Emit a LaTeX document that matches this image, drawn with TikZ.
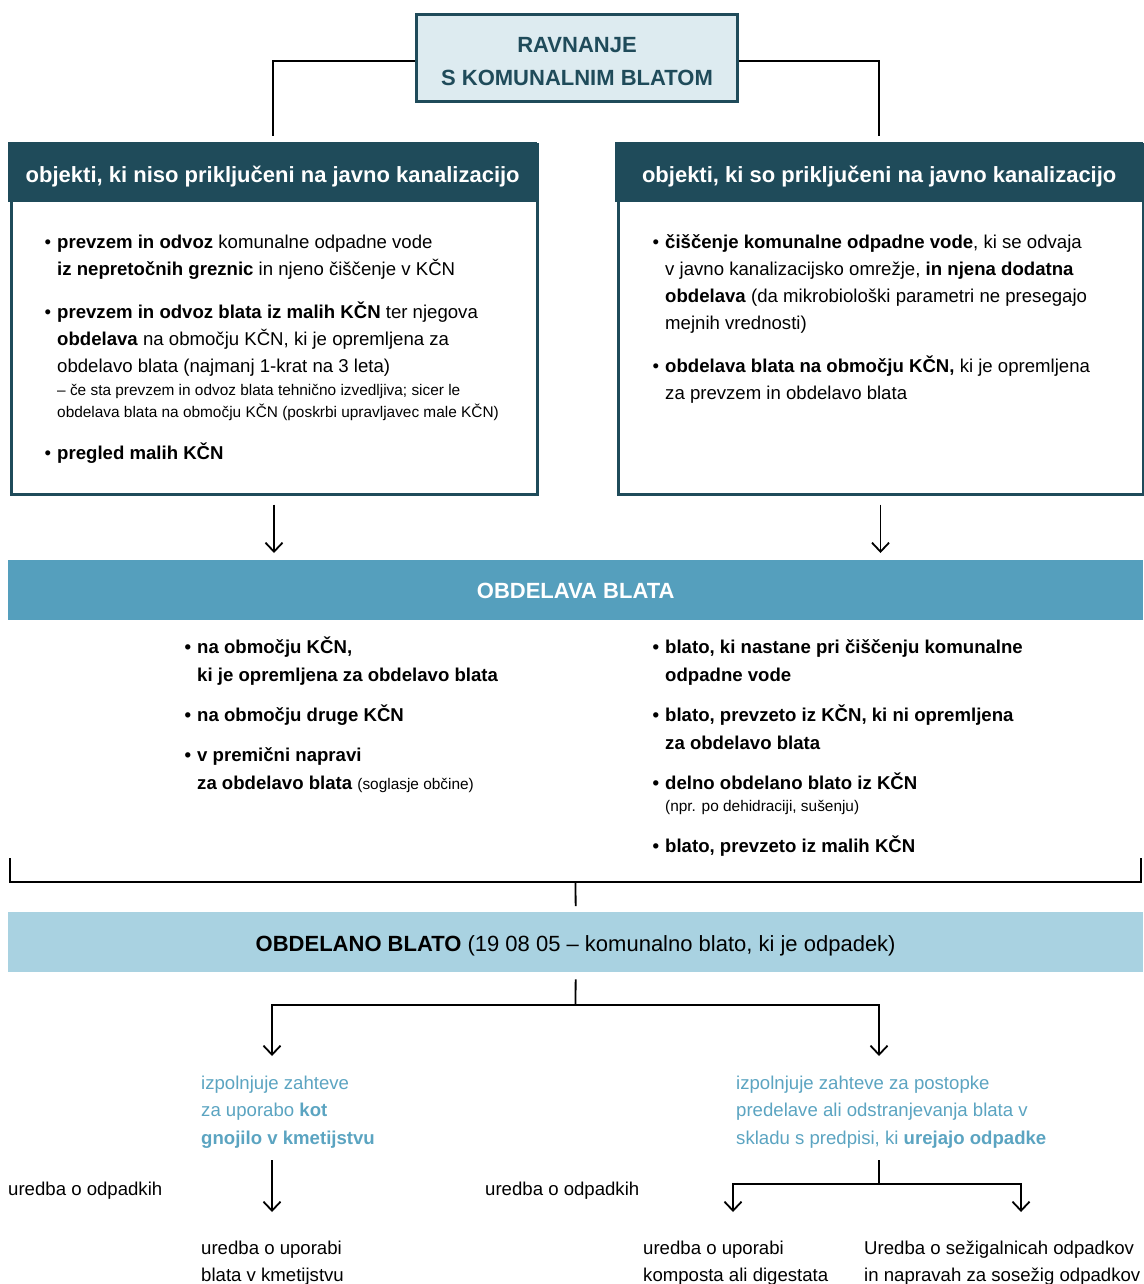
\documentclass[tikz,border=0pt]{standalone}
\usepackage{fontspec}
\setmainfont{Liberation Sans}
\usetikzlibrary{arrows.meta}

\definecolor{temna}{HTML}{1F4B5A}
\definecolor{svetla}{HTML}{DDEBF0}
\definecolor{srednja}{HTML}{559FBD}
\definecolor{bleda}{HTML}{A9D2E1}
\definecolor{modra}{HTML}{5BA4C1}

\newcommand{\besedilo}{\fontsize{18.6}{27}\selectfont}
\newcommand{\sredinski}{\fontsize{18.6}{28}\selectfont}
\newcommand{\drobno}{\fontsize{15.4}{22}\selectfont}
\newcommand{\naslovni}{\fontsize{22}{33}\selectfont}
\newcommand{\pika}{\llap{•\hspace{6pt}}}

\tikzset{
  puscica/.style={-{Straight Barb[length=9pt,width=17pt]}, line width=1.8pt},
  crta/.style={line width=1.8pt},
  tekst/.style={anchor=base west, inner sep=0pt, align=left, font=\besedilo},
  glava/.style={fill=temna, text=white, font=\naslovni\bfseries, minimum height=60pt,
    inner sep=0pt, anchor=north west, text height=20pt, text depth=0pt},
  okvir/.style={draw=temna, line width=3pt, inner sep=0pt},
  pas/.style={minimum width=1135pt, minimum height=60pt, inner sep=0pt, anchor=north west,
    text depth=0pt},
}

\begin{document}
\begin{tikzpicture}[x=1pt,y=-1pt]
    \useasboundingbox (0,0) rectangle (1143,1284);

    % Naslov
    \node[okvir, fill=svetla, minimum width=321pt, minimum height=87pt, text=temna,
      font=\naslovni\bfseries, align=center, text height=55pt, text depth=0pt] (naslov) at (577,58)
      {RAVNANJE\\S KOMUNALNIM BLATOM};

    % Leva skatla
    \node[okvir, minimum width=526pt, minimum height=349pt, anchor=north west] (levo) at (9.5,143.5) {};
    \node[glava, minimum width=529pt] (glavaL) at (8,142) {objekti, ki niso priključeni na javno kanalizacijo};
    \node[tekst] (lL1) at (57,275) {\pika\textbf{prevzem in odvoz} komunalne odpadne vode\\\textbf{iz nepretočnih greznic} in njeno čiščenje v KČN};
    \node[tekst] (lL2) at (57,372) {\pika\textbf{prevzem in odvoz blata iz malih KČN} ter njegova\\\textbf{obdelava} na območju KČN, ki je opremljena za\\obdelavo blata (najmanj 1-krat na 3 leta)};
    \node[tekst, font=\drobno] (lL2opomba) at (57,417) {– če sta prevzem in odvoz blata tehnično izvedljiva; sicer le\\obdelava blata na območju KČN (poskrbi upravljavec male KČN)};
    \node[tekst] (lL3) at (57,459) {\pika\textbf{pregled malih KČN}};

    % Desna skatla
    \node[okvir, minimum width=525pt, minimum height=349pt, anchor=north west] (desno) at (616.5,143.5) {};
    \node[glava, minimum width=528pt] (glavaD) at (615,142) {objekti, ki so priključeni na javno kanalizacijo};
    \node[tekst] (dL1) at (665,329) {\pika\textbf{čiščenje komunalne odpadne vode}, ki se odvaja\\v javno kanalizacijsko omrežje, \textbf{in njena dodatna}\\\textbf{obdelava} (da mikrobiološki parametri ne presegajo\\mejnih vrednosti)};
    \node[tekst] (dL2) at (665,399) {\pika\textbf{obdelava blata na območju KČN,} ki je opremljena\\za prevzem in obdelavo blata};

    % Povezave od naslova
    \draw[crta, shorten >=6pt] ([yshift=-3pt]naslov.west) -| (glavaL.north);
    \draw[crta, shorten >=6pt] ([yshift=-3pt]naslov.east) -| (glavaD.north);

    % Obdelava blata
    \node[pas, fill=srednja, text=white, font=\naslovni\bfseries, text height=16pt] (obdelava) at (8,560) {OBDELAVA BLATA};
    \draw[puscica, shorten <=9pt, shorten >=7pt] (levo.south) -- (levo.south |- obdelava.north);
    \draw[puscica, shorten <=9pt, shorten >=7pt] (desno.south) -- (desno.south |- obdelava.north);

    \node[tekst, font=\sredinski\bfseries] (sL1) at (197,681) {\pika na območju KČN,\\ki je opremljena za obdelavo blata};
    \node[tekst, font=\sredinski\bfseries] (sL2) at (197,721) {\pika na območju druge KČN};
    \node[tekst, font=\sredinski\bfseries] (sL3) at (197,789) {\pika v premični napravi\\za obdelavo blata {\drobno\mdseries (soglasje občine)}};

    \node[tekst, font=\sredinski\bfseries] (sD1) at (665,681) {\pika blato, ki nastane pri čiščenju komunalne\\odpadne vode};
    \node[tekst, font=\sredinski\bfseries] (sD2) at (665,749) {\pika blato, prevzeto iz KČN, ki ni opremljena\\za obdelavo blata};
    \node[tekst, font=\sredinski\bfseries] (sD3) at (665,789) {\pika delno obdelano blato iz KČN};
    \node[tekst, font=\drobno] (sD3opomba) at (665,811) {(npr. po dehidraciji, sušenju)};
    \node[tekst, font=\sredinski\bfseries] (sD4) at (665,852) {\pika blato, prevzeto iz malih KČN};

    % Oklepaj
    \coordinate (oklepajL) at (10,858);
    \coordinate (oklepajD) at (1141,858);
    \coordinate (sredina) at (575.5,882);
    \draw[crta] (oklepajL) |- (sredina) -| (oklepajD);

    % Obdelano blato
    \node[pas, fill=bleda, font=\naslovni, text height=18pt] (obdelano) at (8,912)
      {\textbf{OBDELANO BLATO} (19 08 05 – komunalno blato, ki je odpadek)};
    \draw[crta, shorten >=6pt] (sredina) -- (obdelano.north);

    % Razcep
    \coordinate (razcep) at (575.5,1005);
    \coordinate (ciljL) at (272,1056);
    \coordinate (ciljD) at (879,1056);
    \draw[crta, shorten <=7pt] (obdelano.south) -- (razcep);
    \draw[puscica] (razcep) -| (ciljL);
    \draw[puscica] (razcep) -| (ciljD);

    \node[tekst, text=modra, font=\fontsize{18.6}{27.5}\selectfont] (gnojilo) at (201,1144) {izpolnjuje zahteve\\za uporabo \textbf{kot}\\\textbf{gnojilo v kmetijstvu}};
    \node[tekst, text=modra, font=\fontsize{18.6}{27.5}\selectfont] (predpisi) at (736,1144) {izpolnjuje zahteve za postopke\\predelave ali odstranjevanja blata v\\skladu s predpisi, ki \textbf{urejajo odpadke}};

    % Uredbe
    \node[tekst] (odpadkiL) at (8,1195) {uredba o odpadkih};
    \node[tekst] (odpadkiS) at (485,1195) {uredba o odpadkih};

    \coordinate (izL) at (272,1160);
    \coordinate (vL) at (272,1212);
    \draw[puscica] (izL) -- (vL);

    \coordinate (izD) at (879,1160);
    \coordinate (razcepD) at (879,1184);
    \coordinate (vD1) at (733,1212);
    \coordinate (vD2) at (1021,1212);
    \draw[crta] (izD) -- (razcepD);
    \draw[puscica] (razcepD) -| (vD1);
    \draw[puscica] (razcepD) -| (vD2);

    \node[tekst] (uporabaL) at (201,1281) {uredba o uporabi\\blata v kmetijstvu};
    \node[tekst] (uporabaD) at (643,1281) {uredba o uporabi\\komposta ali digestata};
    \node[tekst] (sezig) at (864,1281) {Uredba o sežigalnicah odpadkov\\in napravah za sosežig odpadkov};
\end{tikzpicture}
\end{document}
